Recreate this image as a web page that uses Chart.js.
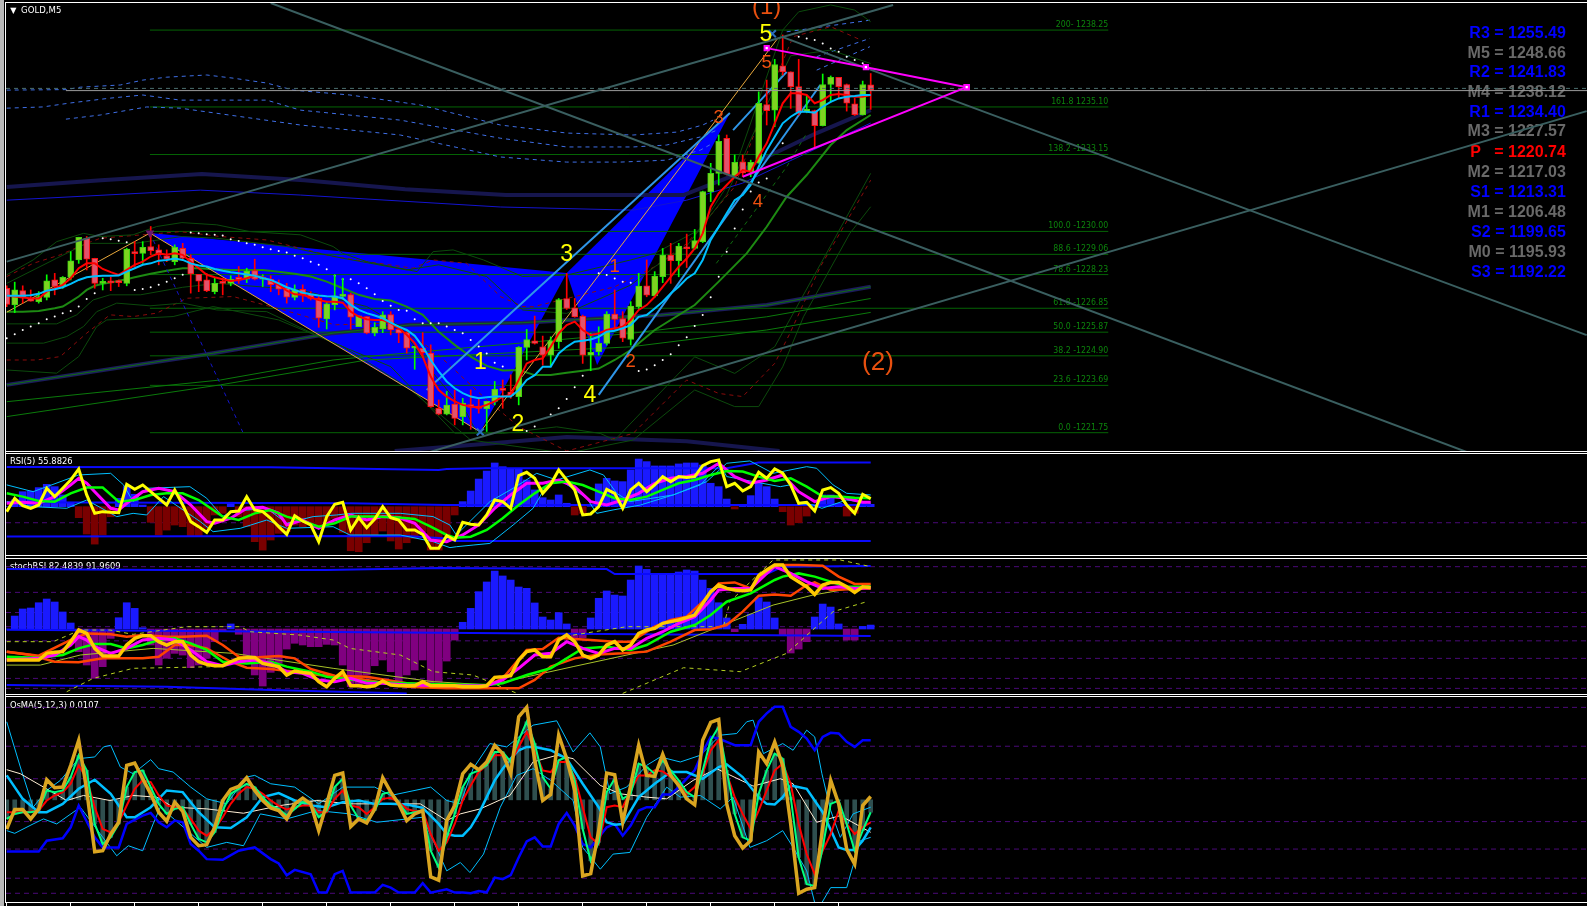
<!DOCTYPE html>
<html>
<head>
<meta charset="utf-8">
<title>GOLD,M5</title>
<script src="https://cdn.jsdelivr.net/npm/chart.js@4/dist/chart.umd.js"></script>
<style>
  html, body { margin: 0; padding: 0; background: #000; width: 1587px; height: 906px; overflow: hidden; }
  canvas { position: absolute; left: 6px; display: block; }
  .rule { position: absolute; left: 5px; right: 0; height: 1px; background: #fff; }
  #edge { position: absolute; left: 0; top: 0; width: 4px; height: 906px; background: #b8b8b8; }
  #edge2 { position: absolute; left: 5px; top: 2px; width: 1px; height: 900px; background: #fff; }
  #ticks { position: absolute; left: 6px; top: 903px; width: 865px; height: 3px;
    background: repeating-linear-gradient(90deg, #fff 0 1px, transparent 1px 64px); }
</style>
</head>
<body>
<div id="edge"></div><div id="edge2"></div>
<div class="rule" style="top:2px"></div>
<div class="rule" style="top:451px"></div><div class="rule" style="top:453px"></div>
<div class="rule" style="top:555px"></div><div class="rule" style="top:558px"></div>
<div class="rule" style="top:694px"></div><div class="rule" style="top:696px"></div>
<div class="rule" style="top:902px"></div>
<div id="ticks"></div>
<canvas id="mainChart" width="1581" height="448" style="top:3px"></canvas>
<canvas id="rsiChart" width="1581" height="101" style="top:454px"></canvas>
<canvas id="stochChart" width="1581" height="135" style="top:559px"></canvas>
<canvas id="osmaChart" width="1581" height="205" style="top:697px"></canvas>
<script>
// Candles, one value per bar, bar 0 on the left
const opens = [1227.67,1226.99,1227.57,1227.27,1227.12,1227.29,1228.01,1227.74,1228.12,1228.83,1229.72,1228.90,1227.87,1227.93,1227.92,1227.87,1229.17,1229.10,1229.38,1229.24,1229.00,1228.76,1229.31,1228.90,1228.24,1228.01,1227.53,1227.90,1227.87,1228.12,1228.04,1228.39,1228.04,1228.04,1227.82,1227.67,1227.29,1227.63,1227.42,1227.26,1226.41,1227.00,1227.33,1227.41,1226.10,1226.51,1225.83,1226.00,1226.59,1225.99,1225.85,1225.21,1225.21,1225.01,1222.75,1222.51,1222.92,1222.41,1222.90,1222.82,1222.73,1223.03,1223.57,1223.41,1223.23,1225.25,1225.52,1225.27,1224.93,1225.48,1227.25,1226.87,1226.53,1224.93,1225.07,1225.41,1226.61,1226.43,1225.57,1226.91,1227.77,1227.36,1228.14,1229.03,1228.80,1229.37,1229.30,1229.58,1231.63,1232.38,1233.81,1232.28,1232.85,1232.45,1232.81,1235.20,1234.97,1236.79,1236.54,1235.93,1234.90,1234.95,1234.33,1236.02,1236.31,1236.02,1235.23,1234.77,1236.01];
const highs = [1227.77,1227.92,1227.77,1227.60,1227.53,1228.22,1228.28,1228.15,1229.17,1229.76,1229.79,1228.90,1228.08,1228.12,1228.01,1229.31,1229.58,1229.58,1230.20,1229.45,1229.24,1229.45,1229.51,1229.04,1228.24,1228.28,1228.08,1228.08,1228.18,1228.56,1228.49,1228.86,1228.22,1228.18,1228.01,1227.87,1227.81,1227.81,1227.53,1227.33,1227.12,1228.22,1228.08,1227.47,1226.54,1226.51,1226.26,1226.71,1226.71,1226.10,1225.89,1225.28,1225.85,1225.35,1223.09,1223.44,1223.50,1223.16,1223.50,1223.20,1223.04,1223.85,1223.91,1224.12,1225.28,1225.98,1226.53,1225.71,1225.68,1227.25,1228.28,1227.25,1226.57,1225.82,1226.09,1226.71,1227.60,1226.71,1227.12,1228.28,1228.83,1228.35,1229.30,1229.51,1229.51,1229.89,1230.08,1231.65,1232.79,1233.95,1233.95,1233.13,1233.13,1232.92,1235.72,1236.20,1237.05,1238.05,1236.54,1237.05,1235.55,1234.97,1236.45,1236.37,1236.31,1236.04,1235.45,1236.16,1236.47];
const lows = [1226.92,1226.67,1227.06,1227.14,1227.06,1227.19,1227.40,1227.67,1228.01,1228.69,1228.42,1227.67,1227.60,1227.57,1227.74,1227.77,1228.56,1228.69,1229.04,1228.63,1228.76,1228.63,1228.83,1227.47,1227.53,1227.53,1227.44,1227.40,1227.77,1227.87,1227.90,1228.01,1227.74,1227.53,1227.40,1227.06,1227.19,1227.12,1227.19,1226.07,1226.00,1226.78,1227.22,1225.99,1226.10,1225.80,1225.72,1225.85,1225.76,1225.44,1225.01,1224.35,1224.87,1222.79,1222.48,1222.48,1222.07,1222.07,1221.89,1222.55,1221.80,1222.89,1222.75,1223.16,1222.89,1224.73,1225.38,1224.52,1224.45,1225.21,1226.80,1226.48,1224.59,1224.29,1224.93,1225.34,1225.96,1225.48,1225.34,1226.84,1227.32,1227.30,1227.90,1227.87,1228.14,1228.52,1229.26,1229.54,1231.22,1231.90,1232.31,1232.24,1232.24,1232.24,1232.79,1234.36,1234.29,1236.41,1235.04,1234.77,1234.86,1233.40,1234.32,1235.30,1235.45,1234.93,1234.75,1234.77,1235.00];
const closes = [1227.01,1227.60,1227.26,1227.14,1227.33,1227.97,1227.74,1228.12,1228.79,1229.76,1228.86,1227.87,1227.94,1227.89,1227.90,1229.27,1229.09,1229.35,1229.21,1229.04,1228.86,1229.35,1228.90,1228.26,1227.96,1227.56,1227.87,1227.87,1228.04,1228.01,1228.37,1228.04,1228.08,1227.82,1227.63,1227.30,1227.60,1227.40,1227.25,1226.44,1227.03,1227.36,1227.42,1226.48,1226.54,1225.83,1226.07,1226.58,1225.96,1225.83,1225.21,1225.25,1225.03,1222.82,1222.51,1222.88,1222.34,1222.96,1222.79,1222.75,1223.04,1223.53,1223.48,1223.27,1225.25,1225.57,1225.41,1224.93,1225.52,1227.21,1226.84,1226.50,1224.93,1225.04,1225.41,1226.61,1226.39,1225.62,1226.94,1227.76,1227.39,1228.17,1229.03,1228.80,1229.40,1229.29,1229.62,1231.63,1232.38,1233.69,1232.35,1232.83,1232.40,1232.83,1235.25,1234.95,1236.84,1236.54,1235.93,1234.90,1235.01,1234.33,1236.02,1236.31,1235.93,1235.25,1234.78,1236.02,1235.79];

const maRed = [1227.36,1227.33,1227.30,1227.25,1227.25,1227.53,1227.67,1227.81,1228.08,1228.49,1228.69,1228.69,1228.46,1228.33,1228.22,1228.42,1228.63,1228.76,1228.97,1229.10,1229.04,1229.10,1229.04,1228.76,1228.49,1228.22,1228.12,1228.04,1227.97,1228.01,1228.08,1228.18,1228.12,1227.98,1227.81,1227.57,1227.42,1227.40,1227.29,1227.19,1227.12,1227.12,1227.08,1226.71,1226.51,1226.40,1226.37,1226.37,1226.24,1226.03,1225.76,1225.42,1224.87,1224.05,1223.50,1223.23,1223.03,1222.89,1222.82,1222.78,1222.89,1223.03,1223.23,1223.30,1223.91,1224.59,1224.73,1224.80,1225.27,1225.82,1226.16,1226.30,1225.96,1225.75,1225.82,1225.96,1226.03,1226.09,1226.37,1226.78,1226.98,1227.32,1227.73,1228.14,1228.55,1228.89,1229.30,1229.92,1231.01,1231.56,1231.90,1232.24,1232.51,1232.45,1233.06,1233.61,1234.43,1235.25,1235.66,1235.66,1235.59,1235.25,1235.38,1235.59,1235.63,1235.59,1235.52,1235.52,1235.59];
const maCyan = [1227.36,1227.36,1227.36,1227.38,1227.44,1227.57,1227.63,1227.71,1227.85,1228.01,1228.12,1228.16,1228.18,1228.18,1228.19,1228.35,1228.49,1228.63,1228.69,1228.80,1228.83,1228.89,1228.83,1228.69,1228.60,1228.56,1228.46,1228.39,1228.33,1228.28,1228.23,1228.18,1228.09,1228.01,1227.87,1227.71,1227.60,1227.49,1227.42,1227.37,1227.34,1227.33,1227.26,1226.99,1226.78,1226.65,1226.55,1226.44,1226.26,1226.10,1225.96,1225.72,1225.28,1224.73,1224.26,1223.85,1223.57,1223.37,1223.23,1223.16,1223.20,1223.23,1223.23,1223.23,1223.50,1223.91,1224.11,1224.45,1224.45,1225.00,1225.27,1225.48,1225.52,1225.57,1225.68,1225.89,1225.93,1226.03,1226.16,1226.50,1226.57,1226.84,1227.12,1227.46,1227.73,1228.07,1228.28,1228.83,1229.65,1230.19,1230.74,1231.28,1231.49,1231.90,1232.65,1233.33,1233.88,1234.43,1234.70,1234.90,1234.90,1234.86,1235.11,1235.31,1235.45,1235.52,1235.55,1235.59,1235.59];
const maGreen = [[0,1226.71],[2,1226.71],[4,1226.74],[6,1226.85],[7,1226.92],[8,1227.12],[9,1227.33],[10,1227.60],[11,1227.77],[12,1227.85],[13,1227.90],[14,1227.98],[15,1228.04],[16,1228.12],[18,1228.26],[20,1228.39],[22,1228.49],[24,1228.49],[26,1228.45],[28,1228.42],[32,1228.42],[34,1228.35],[36,1228.26],[38,1228.15],[40,1227.94],[42,1227.67],[44,1227.40],[46,1227.23],[48,1227.17],[50,1226.92],[52,1226.58],[54,1225.89],[56,1225.35],[58,1224.87],[60,1224.49],[62,1224.30],[64,1224.32],[66,1224.11],[68,1224.11],[70,1224.21],[72,1224.29],[74,1224.38],[76,1224.73],[78,1225.14],[81,1225.96],[86,1226.98],[89,1227.94],[92.5,1229.10],[95,1230.19],[97.5,1231.42],[100,1232.31],[103,1233.54],[105,1234.15],[108,1234.77]];

// Envelopes around price
const bandUpOuter = [[0,1228.22],[3.3,1228.83],[6.25,1229.58],[9.6,1229.92],[11.7,1229.79],[15.8,1229.86],[18.75,1230.20],[21.9,1230.36],[26.25,1230.27],[30.4,1229.99],[36.7,1229.86],[40.8,1229.38],[42,1229.10],[45,1228.76],[51.3,1228.35],[53.3,1229.17],[55.8,1229.24],[59.6,1228.83],[64.5,1228.15],[70,1228.21],[78,1228.83],[81,1229.10],[86.5,1230.05],[90.5,1232.10],[94,1235.38],[97,1238.25],[99,1239.00],[103,1239.28],[106,1239.07],[108,1238.59]];
const bandUpInner = [[0,1227.87],[6.25,1228.90],[10,1229.51],[16,1229.51],[21.9,1229.79],[26.25,1229.72],[35,1229.38],[42,1228.90],[50,1228.42],[54,1228.63],[60,1228.15],[64.5,1226.78],[70,1226.64],[78,1227.80],[81,1228.55],[85,1229.40],[90,1231.50],[94,1234.50],[98,1237.20],[103,1237.43],[108,1236.88]];
const bandUpRed = [[0,1228.15],[3.3,1228.69],[6.7,1229.04],[10,1229.51],[11.7,1229.72],[19.2,1229.92],[21.7,1229.99],[26.7,1229.79],[32.5,1229.65],[40.8,1228.97],[45,1228.76],[50.8,1228.49],[53.3,1228.83],[57.5,1228.69],[61.7,1227.33],[64.5,1226.92],[65.8,1226.91],[76,1227.73],[81,1228.55],[85,1229.50],[91,1231.83],[95,1235.38],[98.3,1237.98],[103,1238.39],[106.8,1237.84]];
const bandLowA = [[0,1226.21],[6.25,1226.21],[8.75,1226.58],[10.8,1227.19],[12.9,1227.40],[16.7,1227.40],[22,1227.71],[26.3,1227.87],[36.7,1227.60],[45,1226.92],[49.2,1226.10],[53.3,1224.19],[57.5,1222.55],[58.8,1221.73]];
const bandLowB = [[0,1225.42],[4.6,1225.42],[7.5,1225.69],[9.6,1226.10],[11.25,1226.71],[13.75,1227.06],[17.9,1226.95],[22,1227.06],[26.25,1226.78],[32.5,1226.71],[40,1225.55],[48,1224.46],[52,1223.10],[56,1221.73],[62,1221.72],[68.75,1221.99],[74.2,1221.72],[76,1221.45],[86,1224.86],[91,1224.18],[96,1225.27],[108,1232.38]];
const bandLowRed = [[0,1224.73],[3.75,1224.73],[6.7,1224.87],[10,1225.83],[12.9,1226.58],[15.8,1226.51],[18.75,1226.65],[22.5,1227.26],[28.3,1227.33],[34.6,1226.78],[41,1226.17],[48,1226.24],[53.3,1225.14],[60,1223.10],[64,1222.00],[70,1221.00],[78.3,1221.72],[85,1223.91],[89,1223.36],[92,1223.23],[96,1224.59],[97.9,1225.82],[101.7,1228.55],[108,1232.10]];
const bandLowC = [[0,1224.32],[6.25,1224.19],[9,1224.87],[11.25,1226.10],[12.5,1226.37],[20.8,1226.51],[25.8,1226.92],[34,1226.37],[42,1225.28],[50,1223.64],[58,1221.45],[70,1220.90],[78.3,1221.45],[86,1223.50],[91,1222.82],[94,1222.82],[97,1224.45],[99.6,1226.50],[105.4,1229.92],[108,1231.01]];

// Slow averages
const navyTop = [[0,1231.82],[11.8,1232.10],[24.4,1232.35],[37.2,1232.10],[49.8,1231.73],[62.4,1231.49],[75,1231.49],[84.6,1231.49],[90.4,1232.23],[95,1233.05],[101.25,1234.03],[108,1234.97]];
const blueThin = [[0,1231.28],[24.2,1231.69],[36.7,1231.49],[61.7,1231.00],[78.3,1230.87],[85,1231.28],[92,1231.98],[108,1234.44]];
const navyLow = [[0,1223.71],[25.8,1225.01],[40.8,1225.83],[50.4,1226.17],[64.5,1226.26],[81.8,1226.57],[95,1226.98],[108,1227.73]];
const greenLowA = [[0,1223.02],[26.7,1223.91],[40.8,1224.73],[45,1224.87],[78,1225.82],[95,1226.50],[108,1227.25]];
const greenLowB = [[0,1222.41],[26.7,1223.71],[45,1224.73],[78,1225.27],[95,1225.96],[108,1226.68]];
const navyArc = [[48.5,1221.00],[60,1221.30],[70,1221.57],[85,1221.40],[96.6,1221.00]];
const dashA = [[0,1235.79],[7.4,1235.81],[9.2,1235.91],[14.2,1236.00],[17,1236.20],[20,1236.32],[25,1236.41],[28.3,1236.28],[32.5,1236.08],[35.8,1235.79],[42.9,1235.59],[51.7,1235.18],[61.7,1234.36],[70,1234.03],[78.3,1233.95],[83.8,1234.07],[87,1234.36],[88.3,1234.56]];
const dashB = [[0,1235.05],[4.5,1235.10],[7.9,1235.26],[12.9,1235.46],[17,1235.59],[21.7,1235.38],[32.5,1235.38],[36.7,1234.97],[49.2,1234.56],[61.7,1233.82],[70,1233.46],[78.3,1233.46],[82.5,1233.54],[86.7,1233.87],[88.8,1234.15]];
const dashC = [[7.4,1234.60],[11.7,1234.77],[17.5,1235.10],[21.7,1235.05],[36.7,1234.36],[49.2,1233.95],[61.7,1233.05],[70,1232.84],[76.7,1232.84],[82.5,1232.92],[86.7,1233.33],[88.3,1233.62]];
const dashD = [[97.5,1238.18],[108,1238.66]];
const dashE = [[101.25,1237.16],[107.9,1237.91]];
const dashF = [[101.25,1236.61],[107.9,1237.57]];
const dashGreen = [[88.7,1228.69],[93.3,1230.74],[97.5,1232.65],[100,1234.02]];

// Parabolic dots
const sarDots = [[0,1225.62],[1,1225.78],[2,1225.96],[3,1226.10],[4,1226.24],[5,1226.40],[6,1226.51],[7,1226.65],[8,1226.74],[9,1226.92],[10,1227.23],[11,1227.47],[12,1229.72],[13,1229.68],[14,1229.62],[15,1229.55],[16,1227.60],[17,1227.64],[18,1227.71],[19,1227.81],[20,1227.94],[21,1228.08],[22,1228.22],[23,1229.95],[24,1229.92],[25,1229.88],[26,1229.86],[27,1229.83],[28,1229.68],[29,1229.61],[30,1229.51],[31,1229.45],[32,1229.35],[33,1229.27],[34,1229.20],[35,1229.13],[36,1229.00],[37,1228.90],[38,1228.76],[39,1228.63],[40,1228.45],[41,1228.18],[42,1228.04],[43,1228.04],[44,1227.87],[45,1227.67],[46,1227.42],[47,1227.15],[48,1226.95],[49,1226.78],[50,1226.75],[51,1226.40],[52,1226.24],[53,1226.24],[54,1226.24],[55,1226.10],[56,1225.96],[57,1225.83],[58,1225.55],[59,1225.28],[60,1225.00],[61,1224.62],[62,1224.46],[65,1221.82],[66,1222.00],[68,1222.50],[69,1222.75],[70,1223.13],[71,1223.61],[72,1224.08],[74,1228.28],[75,1228.21],[76,1228.07],[77,1227.94],[78,1227.90],[79,1224.28],[80,1224.34],[81,1224.51],[82,1224.73],[83,1224.97],[84,1225.33],[85,1225.66],[86,1226.12],[87,1226.57],[88,1227.30],[89,1228.14],[90,1229.17],[91,1230.12],[92,1230.90],[93,1231.63],[94,1232.00],[95,1232.17],[97,1233.61],[99,1237.98],[100,1237.91],[101,1237.84],[102,1237.70],[103,1237.50],[104,1237.36],[105,1237.16],[106,1237.02],[107,1236.89]];

// Fibonacci levels and hand drawn objects
const fibLevels = [1238.25,1235.10,1233.15,1230.00,1229.06,1228.23,1226.85,1225.87,1224.90,1223.69,1221.75];
const fibLabels = ['200- 1238.25','161.8 1235.10','138.2 -1233.15','100.0 -1230.00','88.6 -1229.06','78.6 -1228.23','61.8 -1226.85','50.0 -1225.87','38.2 -1224.90','23.6 -1223.69','0.0 -1221.75'];
const fibRange = [17.9,137.7];
const trendUp = [[0,1228.76],[110.8,1239.28]];
const trendDownA = [[33,1239.36],[182.5,1220.96]];
const trendDownB = [[97,1237.96],[197.5,1225.75]];
const trendLow = [[52.9,1220.96],[197.5,1234.93]];
const bidAsk = [1235.77,1235.86];
const wedgeTop = [[95,1237.51],[107.4,1236.73],[120,1235.91]];
const wedgeBottom = [[92,1232.24],[120,1235.91]];
const waveBlueA = [[52.5,1223.50],[90.4,1234.85]];
const waveBlueB = [[74,1223.30],[101.7,1236.00]];
const waveBlueC = [[90.8,1234.15],[97.5,1236.54]];
const zigzag = [[0,1226.69],[17.9,1229.93],[59.2,1221.78],[96.4,1237.92]];
const dotted = [[17.9,1229.93],[29.5,1221.78]];
const triOneTop = [[17.9,1229.93],[70,1228.29]];
const triOneLow = [[17.9,1229.93],[59.2,1221.78],[70,1228.29]];
const triTwoTop = [[70,1228.29],[90.4,1234.85]];
const triTwoLow = [[70,1228.29],[73.8,1224.52],[90.4,1234.85]];
const pivotLabels = ['R3 = 1255.49','M5 = 1248.66','R2 = 1241.83','M4 = 1238.12','R1 = 1234.40','M3 = 1227.57','P   = 1220.74','M2 = 1217.03','S1 = 1213.31','M1 = 1206.48','S2 = 1199.65','M0 = 1195.93','S3 = 1192.22'];
const pivotPrices = [1238.12,1237.30,1236.49,1235.69,1234.87,1234.07,1233.24,1232.42,1231.60,1230.79,1229.97,1229.15,1228.33];
const pivotColors = ['#0000ff','#696969','#0000ff','#696969','#0000ff','#696969','#ff0000','#696969','#0000ff','#696969','#0000ff','#696969','#0000ff'];
const yellowWaves = [['1',59.2,1224.63],['2',63.9,1222.1],['3',70,1229.03],['4',72.9,1223.25],['5',94.9,1238.05]];
const orangeWaves = [['1',76,1228.55],['2',78,1224.65],['3',89,1234.64],['4',93.9,1231.2],['5',95,1236.9]];

// RSI pane
const rsiLine = [46.35,56.15,50.76,48.80,51.25,63.51,57.38,63.51,69.63,77.72,58.60,45.13,46.35,45.86,45.62,66.45,62.77,65.96,61.05,56.15,51.25,62.28,51.25,39.00,35.32,31.16,40.22,40.22,46.35,46.84,57.38,47.58,46.35,41.45,35.32,29.68,43.41,39.49,36.55,24.29,42.67,51.74,53.21,32.87,41.94,34.59,40.96,50.03,41.94,40.22,32.87,32.87,29.68,19.39,19.39,28.70,25.52,38.51,37.04,36.55,43.90,54.93,53.70,48.80,72.82,75.27,70.86,59.83,66.45,76.99,69.63,62.28,43.90,44.63,50.03,62.77,59.83,48.80,62.28,67.18,61.05,65.96,72.08,68.41,72.08,71.35,72.08,80.17,83.11,84.34,64.73,67.18,61.55,64.73,75.27,70.86,77.72,74.54,65.96,52.48,53.21,46.84,62.28,64.00,59.83,51.25,45.13,59.10,55.88];
const rsiHist = [0,5,11,11.5,14,16.4,14.7,8.6,3.2,-8.1,-20.1,-27.5,-20.8,-7.4,6.1,14.7,9.1,1.2,-11.5,-20.8,-17.2,-13.5,-14.7,-21.3,-21.3,-15.9,-6.1,-4.9,3.2,-7.4,-14.7,-25.7,-31.9,-24.5,-19.6,-18.4,-13.5,-14.7,-13.5,-15.9,-11.5,-8.6,-18.9,-32.4,-33.1,-26.5,-20.8,-17.9,-25.2,-31.1,-26.5,-23.3,-18.4,-31.9,-31.9,-20.8,-6.1,3.7,11.5,20.3,26.2,32.1,29.4,27.7,27.7,19.6,12.3,6.6,4.9,8.6,2.5,-6.1,-4.9,0,16.7,20.8,18.9,18.4,27,35,33.1,29.9,29.9,29.9,31.4,32.1,32.1,30.6,17.2,14.7,5.6,-1.7,0.2,8.1,17.2,14.7,5.6,-3.7,-13.5,-11.8,-6.9,0,8.6,8.6,2.5,-6.9,-4.9,2.5,1.7];
const rsiMagenta = [[0,52.5],[2,53.2],[4,52.5],[6,57.4],[8,66],[9,70.9],[10,67.2],[11,61],[13,48.8],[14,47.6],[15,52.5],[17,61],[19,63.5],[21,61],[23,51.2],[25,39],[26,37.8],[28,41.5],[30,48.8],[32,49.5],[34,45.1],[35,36.5],[37,40.2],[39,34.1],[41,40.2],[43,43.9],[45,40.2],[47,42.7],[49,42],[51,37.8],[53,25.5],[55,24.3],[57,29.2],[59,36.6],[61,48.8],[63,58.6],[65,67.2],[67,67.2],[69,69.6],[71,64.7],[73,53.7],[75,51.2],[77,54.9],[79,59.8],[81,67.2],[83,70.9],[85,72.1],[87,74.5],[89,81.9],[91,72.1],[93,67.2],[95,69.6],[97,73.3],[99,61],[101,53.7],[103,57.4],[105,56.2],[107,53.2],[108,53.2]];
const rsiGreen = [[0,59.8],[2,57.4],[4,54.2],[6,53.7],[8,59.8],[10,64],[12,64],[14,53.7],[16,54.9],[18,58.6],[20,59.8],[22,59.8],[24,54.9],[27,42.7],[29,40.2],[31,45.1],[33,47.6],[35,42.7],[37,39.5],[39,35.3],[41,37.8],[43,42.7],[46,42.7],[49,42],[51,41],[53,35.3],[55,29.2],[56,27.2],[58,27.9],[60,32.9],[62,41.5],[64,51.2],[66,59.8],[68,67.2],[70,68.4],[72,65.9],[74,61],[76,56.2],[78,54.9],[80,57.4],[82,62.3],[84,67.2],[86,69.6],[88,73.3],[90,76.2],[92,75.8],[94,72.1],[96,68.9],[98,70.9],[100,64.7],[102,57.4],[104,57.4],[106,56.6],[108,56.2]];
const rsiCyanUp = [[0,66],[3.3,61],[9,73.3],[13,74.5],[14.6,66],[15.8,53.7],[17.5,63.5],[22.9,64.7],[25,56.2],[27,42.7],[28,46.4],[32.5,48.8],[35,37.8],[38.3,42.7],[41.25,43.9],[43,45.1],[49.2,45.1],[53.3,42.7],[55.4,36.5],[56.2,29.2],[60.4,53.7],[63.3,63.5],[66.25,74.5],[68.75,69.6],[72.9,77],[74.6,73.3],[76.25,59.8],[77.9,53.7],[83.3,58.6],[87.5,68.4],[90,81.9],[92.9,83.6],[95.8,74.5],[100,79.4],[101.25,78.2],[103.3,66],[105,59.8],[108,58.6]];
const rsiCyanLow = [[0,53.7],[3.3,50],[7.5,48.8],[10,54.9],[13.75,42.7],[15.8,45.1],[17.5,43.9],[19.6,57.4],[24.2,39],[25.8,31.6],[29.2,34.1],[32.5,40.2],[35,34.1],[40.8,35.3],[42.9,29.2],[49.2,29.2],[53.3,24.3],[55.4,19.9],[56.25,20.6],[58.3,21.8],[60.4,23],[63.3,36.5],[65.8,48.8],[67.5,66],[69.2,69.6],[72.5,56.2],[73.75,45.1],[75.8,47.6],[79.2,51.2],[83.3,58.6],[86.7,66],[89.2,80.7],[90,72.1],[96.7,64.7],[97.9,66],[99,52.5],[100.8,51.2],[101.9,48.8],[105,54.9],[108,52.5]];
const rsiBlueTop = [[0,79.2],[33,79],[54,77],[55,77.7],[60,78.2],[90,78.2],[94,82.4],[108,82.4]];
const rsiBlueMid = [[0,53.2],[43,52.5],[55,51.2],[108,51.2]];
const rsiBlueLow = [[0,28],[50,28.5],[55,26.7],[56,24.8],[108,24.8]];
const rsiLevels = [38.2];

// stochRSI pane
const stochLine = [22.2,22.2,22.2,22.2,22.2,27.8,28.6,29.2,37.5,47.2,44.4,31.9,25.8,25.6,25.6,34.7,40.3,42.5,42.5,37.5,34.7,37.5,37.5,26.4,20.8,18.6,17.5,17.5,20.8,23.6,24.2,24.4,19.4,18.1,16.7,9.7,13.1,11.9,11.1,4.2,0,6.9,12.5,0.8,0.8,0,0.8,4.7,1.4,0.8,0.8,0.8,4.2,0.8,0.8,0.8,0.8,0,0,0,0.8,7.8,8.3,9.2,22.2,29.2,30.6,25,25,38.9,43.1,37.5,26.4,23.6,26.4,34.7,37.5,30.6,34.7,44.4,47.2,48.6,52.8,54.2,55.6,57.5,59.7,69.4,79.2,84.7,81.9,80.6,80,80.6,92.5,97.2,101.4,101.4,91.7,87.5,83.3,76.9,84.7,86.9,86.9,83.3,78.6,83.3,82.48];
const stochHist = [0,10.8,16.7,17.5,21.9,25,22.5,14.2,5,-18.9,-30,-41.1,-31.4,-7.8,9.4,21.9,17.2,1.1,-13.3,-30,-24.4,-20.3,-21.7,-32.2,-30,-24.4,-10.6,-2.2,4.2,-4.4,-24.4,-38.3,-47.5,-36.1,-28.6,-16.7,-11.9,-13.3,-14.7,-14.7,-12.8,-13.3,-30,-48,-48,-38.3,-30.6,-25.8,-35.6,-46.7,-38.3,-34.2,-25.8,-45.3,-44.4,-26.7,-9.2,5.6,17.2,31.1,39.2,48.3,44.2,40.8,35,33.9,21.7,10,7.5,13.6,4.2,-7.2,-7.2,9.2,25.6,31.7,28.3,27.5,40.8,52.5,49.7,45.8,45,45,47.5,49.2,48.3,40.8,33.9,21.9,9.2,-2.2,3.9,12.5,26.1,22.5,9.2,-5,-20,-16.7,-10.6,10,20.8,18.3,4.2,-9.2,-9.2,2.2,3.3];
const stochMagenta = [[0,22.2],[4,23.6],[6,26.4],[8,34.7],[9,41.7],[10,38.9],[11,33.3],[13,27.8],[15,31.9],[17,38.9],[19,40.3],[21,38.9],[23,30.6],[25,20.8],[27,17.5],[29,20.8],[31,22.2],[33,19.4],[35,12.5],[37,11.1],[39,5.6],[41,4.2],[43,6.9],[45,2.8],[47,2.8],[50,1.4],[55,0.8],[60,0.8],[62,5.6],[64,15.3],[66,26.4],[68,27.8],[70,37.5],[72,31.9],[74,27.8],[76,31.9],[78,31.9],[80,40.3],[82,45.8],[84,52.8],[86,58.3],[88,72.2],[89,80.6],[91,81.9],[93,81.9],[95,94.4],[96,100],[98,94.4],[100,87.5],[102,81.9],[104,83.3],[106,81.9],[108,82.5]];
const stochGreen = [[0,25],[4,24.2],[7,26.4],[9,31.9],[11,35.6],[13,35.6],[15,31.9],[17,34.7],[19,38.9],[21,40.3],[23,36.1],[25,30.6],[27,20.8],[30,19.4],[33,20.8],[35,16.7],[38,12.5],[40,8.3],[42,6.9],[45,4.2],[50,2.8],[55,1.9],[60,1.4],[62,2.8],[65,9.7],[68,15.3],[70,23.6],[72,31.9],[75,33.3],[78,30.6],[80,34.7],[83,45.8],[86,51.4],[88,59.7],[90,70.8],[93,77.8],[96,88.9],[97,91.7],[99,94.4],[101,91.7],[103,87.5],[105,83.3],[108,83.3]];
const stochOrangeHi = [[0,29.2],[4,25.8],[8,38.9],[10,44.4],[13,43.6],[15,41.7],[17,43],[20,41.7],[22,41.7],[25,42.5],[27,34.7],[29,25],[31,24.4],[34,25.6],[36,23.6],[38,14.7],[41,9.2],[45,8.3],[50,2.8],[55,0.8],[60,0.8],[62,6.9],[65,30.6],[67,31.4],[69,40.8],[71,39.7],[73,38.9],[76,37.5],[78,37.5],[81,50],[83,55.6],[85,58.3],[87,70.8],[89,86.1],[91,86.9],[93,81.9],[94,90.3],[96,101.4],[99,101.4],[102,100.8],[104,91.7],[106,85.6],[108,85.6]];
const stochOrangeLow = [[0,29.2],[3,26.4],[6,20.8],[9,20.3],[12,23.6],[17,23.6],[19,25],[21,34.7],[23,34.7],[25,31.9],[28,20.8],[30,15.8],[33,14.7],[36,12.5],[39,9.7],[42,8.3],[45,5.6],[50,0],[55,-1.4],[64,-1.4],[66,5.6],[68,16.7],[71,23.6],[74,26.9],[77,27.8],[80,29.2],[83,37.5],[86,47.2],[88,47.8],[90,51.4],[92,62.5],[94,75.8],[96,76.9],[98,75.8],[100,84.7],[101,86.9],[103,80.6],[106,81.4],[108,81.9]];
const stochDashA = [[0,37.5],[5.8,37.5],[9.2,47.2],[12.9,47.2],[15.8,43.6],[22.5,50],[29.2,50],[30.4,45.8],[36.7,43],[40.8,38.9],[42.9,31.9],[49.2,26.4],[53.3,12.5],[58.3,9.7],[63.8,-5.6]];
const stochDashB = [[70.8,43],[77.5,50],[89.6,50],[90.4,70.8],[95.8,105.6],[104.2,105.6],[108,100]];
const stochDashC = [[7.5,-4.2],[10.8,6.9],[15.8,15.3],[26.25,16.7]];
const stochDashD = [[77,-5.6],[84.6,15.8],[91.7,12.5],[97.5,27.8],[103.3,62.5],[107.5,70.8]];
const stochOlive = [[0,18],[4.2,18],[9.2,26.4],[18.3,31.9],[28.3,27.8],[40.8,15.3],[53.3,4.2],[60.4,1.4],[70.8,16.7],[83.3,34.7],[95.8,68],[100.8,76.4],[108,84.7]];
const stochBlueTop = [[0,98],[20,97.2],[40,97.2],[54,99],[75,98],[76,93.9],[95,93.9],[97,100],[108,100.5]];
const stochBlueMid = [[0,47.5],[54,45],[108,42.2]];
const stochBlueLow = [[0,1.4],[20,0],[33,-2.8],[50,-5.6]];
const stochLevels = [100,78.6,61.8,50,38.2,23.6,6.9,-1.4];

// OsMA pane, in thousandths
const osmaGold = [-87,-29,-29,-57,-27,60,36,38,103,178,28,-155,-152,-102,-67,103,110,63,18,-37,-64,-7,-34,-112,-137,-134,-82,-2,31,40,66,28,-2,-24,-32,-57,-12,5,-12,-92,-12,73,80,-80,-57,-69,-27,66,23,-12,-62,-42,-32,-230,-240,-62,-17,78,106,90,113,163,138,78,248,276,118,-2,16,193,123,28,-227,-220,-92,80,75,-67,43,163,73,70,136,73,43,3,-15,178,231,240,-12,-107,-144,-122,143,108,173,103,-72,-279,-267,-262,-82,58,-12,-147,-192,-17,10];
const osmaHist = [-57,-42,-37,-37,-32,28,23,28,68,133,88,-72,-132,-112,-72,38,83,88,38,-12,-42,-27,-22,-72,-117,-127,-97,-32,18,33,48,38,8,-17,-27,-47,-27,-7,-12,-52,-32,38,63,-17,-57,-62,-32,18,23,-7,-42,-37,-32,-152,-202,-112,-42,38,78,88,103,143,143,113,178,233,168,68,33,118,128,58,-87,-182,-127,23,63,3,18,108,98,78,118,88,58,23,8,88,178,218,88,-42,-112,-122,18,88,138,123,8,-172,-252,-257,-142,-12,-2,-72,-152,-92,-37];
const osmaRed = [-37,-37,-37,-35,-32,-2,13,23,48,103,63,-22,-87,-97,-67,-17,33,58,53,13,-17,-22,-27,-57,-92,-107,-87,-52,-12,18,38,33,18,-2,-17,-29,-22,-17,-17,-37,-37,3,28,-17,-22,-42,-22,3,6,-7,-27,-34,-32,-102,-152,-127,-72,-2,43,83,103,133,133,113,158,203,148,88,83,113,113,68,-22,-112,-132,-22,-17,-22,28,73,73,88,85,68,48,18,38,78,148,178,78,8,-42,-87,-32,28,88,108,48,-72,-162,-222,-152,-102,-32,-72,-102,-82,-67];
const osmaCyan = [[0,73],[2,3],[4,-37],[5,-37],[7,-12],[9,33],[11,60],[13,18],[15,-52],[16,-52],[18,-22],[20,28],[22,23],[24,-37],[26,-82],[28,-84],[30,-52],[32,8],[34,20],[36,-2],[38,-17],[40,-22],[42,-7],[44,-2],[46,-12],[48,-12],[50,-14],[52,-24],[54,-72],[55,-102],[56,-107],[57,-107],[58,-82],[59,-42],[60,8],[61,58],[62,93],[63,123],[64,148],[65,158],[66,158],[68,148],[70,123],[72,48],[74,-22],[75,-67],[76,-74],[77,-72],[78,-32],[79,8],[81,48],[83,83],[85,83],[87,63],[89,98],[90,106],[92,68],[94,8],[95,-12],[96,-14],[97,8],[98,43],[100,33],[102,-37],[104,-142],[105,-150],[106,-150],[107,-122],[108,-82]];
const osmaBlue = [[0,-154],[4,-154],[5,-122],[7,-115],[8,-82],[9,-17],[11,-112],[12,-142],[14,-142],[15,-72],[17,-47],[18,-39],[19,-67],[20,-82],[21,-62],[22,-67],[23,-132],[24,-152],[25,-177],[27,-179],[29,-152],[31,-142],[33,-177],[34,-190],[35,-225],[36,-209],[38,-222],[39,-277],[40,-277],[41,-222],[42,-212],[43,-277],[46,-277],[47,-254],[48,-262],[49,-277],[51,-277],[52,-249],[53,-277],[55,-267],[56,-277],[57,-277],[58,-279],[59,-272],[60,-276],[61,-232],[62,-237],[63,-225],[64,-172],[65,-124],[66,-112],[67,-139],[68,-139],[69,-72],[70,-39],[71,-77],[72,-132],[73,-142],[74,-112],[75,-82],[76,-72],[77,-107],[78,-77],[79,-32],[80,-22],[81,-22],[82,16],[83,16],[84,38],[85,63],[86,88],[87,143],[88,188],[89,183],[90,173],[91,163],[93,163],[94,233],[95,258],[96,278],[97,278],[98,218],[99,203],[100,183],[101,148],[102,188],[103,200],[104,198],[105,173],[106,158],[107,178],[108,178]];
const osmaCream = [[0,90],[1.7,78],[4.6,38],[7.5,-2],[9.6,13],[12.9,-2],[15.8,13],[18.75,8],[20.8,-22],[25,-27],[29.6,-40],[34.2,-17],[38.75,-2],[42.9,-12],[49.2,-12],[51.7,-12],[55,-62],[56.7,-42],[59.2,-27],[62.9,13],[65.8,113],[68.75,133],[70.8,123],[74.2,43],[76.7,18],[80,8],[82.5,3],[85.8,58],[88.75,93],[93.3,41],[96.7,63],[98.3,48],[101.25,-67],[104.2,-47],[108,-97]];
const osmaCyanUp = [[0,233],[1.7,98],[3.3,-22],[5,28],[6.7,58],[9,123],[11,128],[12.1,158],[13,163],[14.2,98],[15.8,78],[18,120],[19,93],[20.8,83],[23,38],[25,3],[27.5,-12],[30,68],[31,73],[33,48],[36,38],[39,-12],[42,38],[46,38],[48,13],[53,38],[55,-2],[56.7,-12],[58.3,93],[60.4,168],[62.5,158],[65.8,223],[68.75,236],[70.8,143],[72.9,200],[74.2,158],[75.4,18],[77.5,38],[80,103],[81.7,128],[84.2,113],[86.7,133],[89.2,193],[91.25,198],[92.5,233],[93.3,238],[94.6,138],[97,168],[98.3,148],[100,208],[101,188],[101.9,78],[103,-32],[104.2,-112],[105.8,-42],[108,-22]];
const osmaCyanLow = [[0,-92],[1,-100],[3.3,-72],[4.6,-57],[6.25,-72],[9.2,-22],[11.7,-102],[13.75,-167],[15.2,-137],[17,-152],[18.3,-72],[19.2,-22],[25,-142],[27.5,-127],[29.6,-137],[31.7,-42],[35,-57],[38.75,-32],[42.9,-42],[46.25,-67],[52,-52],[55,-212],[56.7,-187],[57.9,-217],[59.6,-162],[61.7,-22],[63.75,73],[65.8,93],[68,58],[70.8,-2],[72,-142],[74.2,-207],[75.8,-162],[77.9,-157],[80,-52],[82.5,38],[84.2,8],[86.7,13],[89.2,-27],[90.8,8],[92.9,-142],[95,-122],[97,-92],[98.3,-142],[100,-212],[101,-307],[101.9,-307],[103,-262],[105,-262],[106.7,-122],[108,-112]];
const osmaLevels = [276,160,63,-65,-147,-234,-279];

const xMin = -0.09;
const xMax = 197.54;
const GREY = '#3a5f60';
const DASH_PURPLE = '#4a0a78';
const SMALL_FONT = '"DejaVu Sans Condensed", "Liberation Sans"';

function xy(pairs) {
  return pairs.map(p => ({ x: p[0], y: p[1] }));
}
function perBar(values) {
  return values.map((v, i) => ({ x: i, y: v }));
}
function line(data, color, width, extra) {
  return Object.assign({
    type: 'line', data: data, borderColor: color, borderWidth: width,
    pointRadius: 0, tension: 0, fill: false
  }, extra || {});
}
function dashed(data, color, width) {
  return line(data, color, width, { borderDash: [4, 4] });
}
function levelLines(levels, color) {
  return levels.map(v => line(xy([[xMin, v], [xMax, v]]), color, 1, { borderDash: [5, 4] }));
}
function hist(values, base, upColor, downColor, thickness) {
  return {
    type: 'bar', data: values.map((v, i) => ({ x: i, y: base + v })),
    base: base, grouped: false, barThickness: thickness,
    backgroundColor: values.map(v => v >= 0 ? upColor : downColor)
  };
}
function polygon(top, low) {
  return [
    line(xy(top), 'transparent', 0, { fill: '+1', backgroundColor: '#0000ff' }),
    line(xy(low), 'transparent', 0)
  ];
}

// draws text at data positions, back layer goes under the marks
const textPlugin = {
  id: 'paneText',
  beforeDatasetsDraw(chart, args, opts) { drawText(chart, opts.items.filter(t => t.back)); },
  afterDatasetsDraw(chart, args, opts) { drawText(chart, opts.items.filter(t => !t.back)); }
};
function drawText(chart, items) {
  const ctx = chart.ctx;
  ctx.save();
  items.forEach(t => {
    ctx.font = t.font;
    ctx.fillStyle = t.color;
    ctx.textAlign = t.align || 'left';
    ctx.textBaseline = t.base || 'middle';
    ctx.fillText(t.text, chart.scales.x.getPixelForValue(t.x), chart.scales.y.getPixelForValue(t.y));
  });
  ctx.restore();
}

function makePane(id, yMin, yMax, datasets, items) {
  return new Chart(document.getElementById(id), {
    type: 'line',
    data: { datasets: datasets },
    options: {
      responsive: false,
      animation: false,
      events: [],
      layout: { padding: 0, autoPadding: false },
      scales: {
        x: { type: 'linear', min: xMin, max: xMax, display: false, offset: false },
        y: { type: 'linear', min: yMin, max: yMax, display: false }
      },
      plugins: { legend: { display: false }, tooltip: { enabled: false }, paneText: { items: items } }
    },
    plugins: [textPlugin]
  });
}

// Main pane, first dataset ends up on top
const wicks = {
  type: 'bar', grouped: false, barThickness: 1,
  data: lows.map((l, i) => ({ x: i, y: [l, highs[i]] })),
  backgroundColor: closes.map((c, i) => c >= opens[i] ? '#00ff00' : '#ff0000')
};
const bodies = {
  type: 'bar', grouped: false, barThickness: 6, borderWidth: 1, borderSkipped: false, minBarLength: 2,
  data: opens.map((o, i) => ({ x: i, y: [o, closes[i]] })),
  backgroundColor: closes.map((c, i) => c >= opens[i] ? '#7ed321' : '#e0536c'),
  borderColor: closes.map((c, i) => c >= opens[i] ? '#3fd80f' : '#ff1010')
};
const fibLines = fibLevels.map(v => line(xy([[fibRange[0], v], [fibRange[1], v]]), '#056405', 1));

const mainSets = [
  line(xy(wedgeTop), '#ff00ff', 2, { pointRadius: 3, pointStyle: 'rect', pointBackgroundColor: '#fff', pointBorderColor: '#ff00ff', pointBorderWidth: 2 }),
  line(xy(wedgeBottom), '#ff00ff', 2, { pointRadius: [0, 3], pointStyle: 'rect', pointBackgroundColor: '#fff', pointBorderColor: '#ff00ff', pointBorderWidth: 2 }),
  line(xy(trendUp), GREY, 2),
  line(xy(trendDownA), GREY, 2),
  line(xy(trendDownB), GREY, 2),
  line(xy(trendLow), GREY, 2),
  line(xy([[7.4, bidAsk[0]], [xMax, bidAsk[0]]]), '#9a9a9a', 1),
  dashed(xy([[xMin, bidAsk[1]], [xMax, bidAsk[1]]]), '#4c6e6e', 1),
  line(xy([[17.9, 1229.93]]), '#7a1a7a', 0, { pointRadius: 5, pointStyle: 'triangle', rotation: 180, pointBackgroundColor: '#6a1a6a', pointBorderColor: '#6a1a6a' }),
  line(xy([[59.2, 1221.78], [95.7, 1238.1]]), 'transparent', 0, { pointRadius: 5, pointStyle: 'crossRot', pointBorderColor: '#2a6fc0', pointBorderWidth: 2 }),
  line(perBar(maCyan), '#00bfff', 2),
  line(perBar(maRed), '#ff0000', 2),
  bodies,
  wicks,
  line(xy(sarDots), 'transparent', 0, { showLine: false, pointRadius: 1, pointBackgroundColor: '#fff', pointBorderWidth: 0 }),
  line(xy(waveBlueA), '#2f96e8', 2),
  line(xy(waveBlueB), '#2f96e8', 2),
  line(xy(waveBlueC), '#2f96e8', 2),
  line(xy(zigzag), '#e8a83c', 1),
  dashed(xy(dotted), '#1414c8', 1),
  line(xy(maGreen), '#1d8a12', 2),
  line(xy(greenLowA), '#0b7a0b', 1),
  line(xy(greenLowB), '#0b7a0b', 1),
  line(xy(navyLow), '#0f700f', 1),
  line(xy(bandUpOuter), '#0c4a0c', 1),
  line(xy(bandUpInner), '#0c4a0c', 1),
  dashed(xy(bandUpRed), '#8a0b0b', 1),
  line(xy(bandLowA), '#0c4a0c', 1),
  line(xy(bandLowB), '#0c4a0c', 1),
  line(xy(bandLowC), '#0c4a0c', 1),
  dashed(xy(bandLowRed), '#8a0b0b', 1),
  dashed(xy(dashA), '#3f6fe6', 1),
  dashed(xy(dashB), '#3f6fe6', 1),
  dashed(xy(dashC), '#3f6fe6', 1),
  dashed(xy(dashD), '#3f6fe6', 1),
  dashed(xy(dashE), '#3f6fe6', 1),
  dashed(xy(dashF), '#3f6fe6', 1),
  dashed(xy(dashGreen), '#0f6a0f', 1),
  ...fibLines,
  line(xy(blueThin), '#1414d0', 1),
  line(xy(navyTop), '#16164e', 4),
  line(xy(navyLow), '#1c1c5c', 4),
  line(xy(navyArc), '#16164e', 4),
  ...polygon(triOneTop, triOneLow),
  ...polygon(triTwoTop, triTwoLow)
];

const mainText = [
  { text: '▼', x: 0.45, y: 1239.05, color: '#fff', font: '8px "DejaVu Sans"', back: true },
  { text: 'GOLD,M5', x: 1.8, y: 1239.05, color: '#fff', font: '9.5px ' + SMALL_FONT, back: true }
];
fibLabels.forEach((t, i) => mainText.push({
  text: t, x: fibRange[1], y: fibLevels[i] + 0.04, color: '#0c840c', font: '8.7px ' + SMALL_FONT,
  align: 'right', base: 'bottom', back: true
}));
pivotLabels.forEach((t, i) => mainText.push({
  text: t, x: 194.9, y: pivotPrices[i], color: pivotColors[i], font: 'bold 16px "Liberation Sans"',
  align: 'right', back: true
}));
yellowWaves.forEach(w => {
  mainText.push({ text: w[0], x: w[1], y: w[2], color: '#ffff00', font: '23px "Liberation Sans"', align: 'center' });
});
orangeWaves.forEach(w => {
  mainText.push({ text: w[0], x: w[1], y: w[2], color: '#f0500f', font: '18.5px "Liberation Sans"', align: 'center' });
});
mainText.push({ text: '(1)', x: 95, y: 1239.2, color: '#e8500f', font: '24px "Liberation Sans"', align: 'center' });
mainText.push({ text: '(2)', x: 108.9, y: 1224.6, color: '#e8500f', font: '26px "Liberation Sans"', align: 'center' });

makePane('mainChart', 1221.0, 1239.36, mainSets, mainText);

// RSI pane
makePane('rsiChart', 14.49, 88.7, [
  line(perBar(rsiLine), '#ffff00', 3),
  line(xy(rsiGreen), '#00ff00', 2.5),
  line(xy(rsiMagenta), '#ff00ff', 3),
  line(xy(rsiCyanUp), '#00bfff', 1),
  line(xy(rsiCyanLow), '#00bfff', 1),
  line(xy(rsiBlueTop), '#0a0aff', 2),
  line(xy(rsiBlueMid), '#0a0aff', 2),
  line(xy(rsiBlueLow), '#0a0aff', 2),
  hist(rsiHist, 50, '#1a1aff', '#7a0000', 7),
  ...levelLines(rsiLevels, DASH_PURPLE)
], [{ text: 'RSI(5) 55.8826', x: 0.4, y: 83, color: '#fff', font: '9.3px ' + SMALL_FONT, back: true }]);

// stochRSI pane
makePane('stochChart', -6.1, 106.4, [
  line(perBar(stochLine), '#ffc800', 3.5),
  line(xy(stochMagenta), '#ff00ff', 3),
  line(xy(stochGreen), '#00ff00', 2.5),
  line(xy(stochOrangeHi), '#ff4500', 2.5),
  line(xy(stochOrangeLow), '#ff4500', 2.5),
  line(xy(stochOlive), '#a8c428', 1),
  dashed(xy(stochDashA), '#b5d020', 1),
  dashed(xy(stochDashB), '#b5d020', 1),
  dashed(xy(stochDashC), '#b5d020', 1),
  dashed(xy(stochDashD), '#b5d020', 1),
  line(xy(stochBlueTop), '#0a0aff', 2),
  line(xy(stochBlueMid), '#0a0aff', 2),
  line(xy(stochBlueLow), '#0a0aff', 2),
  hist(stochHist, 48.06, '#1a1aff', '#800080', 7),
  ...levelLines(stochLevels, DASH_PURPLE)
], [{ text: 'stochRSI 82.4839 91.9609', x: 0.4, y: 100.2, color: '#fff', font: '9.3px ' + SMALL_FONT, back: true }]);

// OsMA pane
makePane('osmaChart', -305, 307, [
  line(perBar(osmaGold), '#daa520', 3.5),
  line(perBar(osmaHist), '#00ff7f', 2),
  line(perBar(osmaRed), '#ff0000', 2),
  line(xy(osmaCyan), '#00bfff', 2.5),
  line(xy(osmaBlue), '#0000ff', 2.5),
  line(xy(osmaCream), '#ffefd5', 1),
  line(xy(osmaCyanUp), '#00bfff', 1),
  line(xy(osmaCyanLow), '#00bfff', 1),
  hist(osmaHist, 0, '#2f4f4f', '#2f4f4f', 4),
  ...levelLines(osmaLevels, DASH_PURPLE)
], [{ text: 'OsMA(5,12,3) 0.0107', x: 0.4, y: 282, color: '#fff', font: '9.3px ' + SMALL_FONT, back: true }]);
</script>
</body>
</html>
